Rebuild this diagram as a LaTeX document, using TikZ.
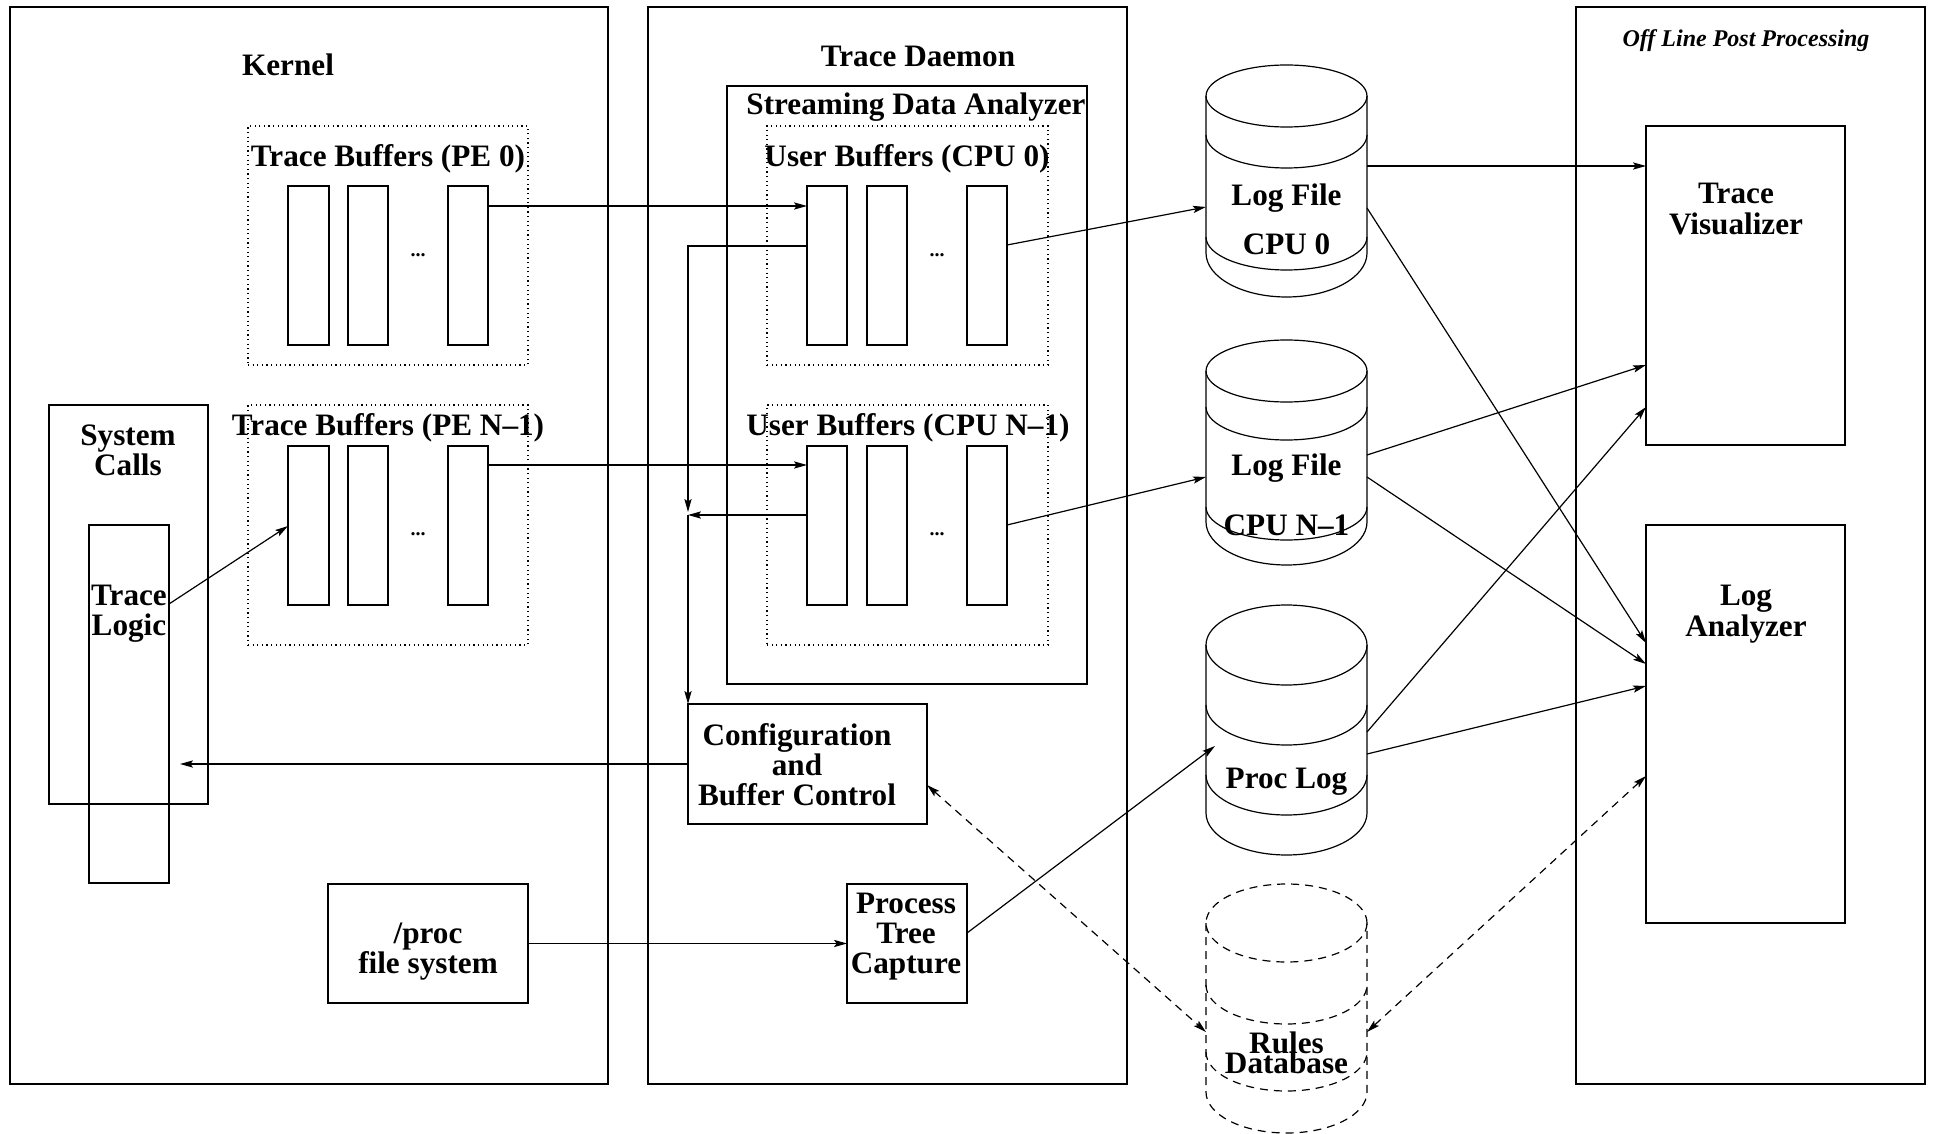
\documentclass[tikz,border=0pt]{standalone}
\usepackage{fontspec}
\setmainfont{Liberation Serif}
\usetikzlibrary{fit,arrows.meta}
\begin{document}
\begin{tikzpicture}[x=0.5pt,y=-0.5pt,
  bx/.style={draw, line width=0.6pt, inner sep=0pt, outer sep=0pt},
  dotbox/.style={draw, line width=0.6pt, dash pattern=on 0.6pt off 1.7pt, inner sep=0pt, outer sep=0pt},
  ghost/.style={inner sep=0pt, outer sep=0pt},
  lbl/.style={font=\fontsize{15.6}{16}\selectfont\bfseries, inner sep=0pt, anchor=base},
  ilbl/.style={font=\fontsize{12}{14}\selectfont\bfseries\itshape, inner sep=0pt, anchor=base},
  dotlbl/.style={font=\fontsize{10}{12}\selectfont\bfseries, inner sep=0pt, anchor=base},
  plain/.style={line width=0.6pt},
  dplain/.style={line width=0.6pt, dash pattern=on 4pt off 3pt},
  conn/.style={line width=0.6pt, -{Stealth[length=6.5pt,width=3.6pt,inset=1.3pt]}},
  dconn/.style={line width=0.6pt, dash pattern=on 4pt off 3pt,
     {Stealth[length=6.5pt,width=3.6pt,inset=1.3pt]}-{Stealth[length=6.5pt,width=3.6pt,inset=1.3pt]}},
]
\useasboundingbox (0,0) rectangle (1933,1134);

% outer boxes
\node[bx, fit={(10,7)(608,1084)}] (kernel) {};
\node[bx, fit={(648,7)(1127,1084)}] (daemon) {};
\node[bx, fit={(1576,7)(1925,1084)}] (offline) {};
\node[bx, fit={(727,86)(1087,684)}] (sda) {};

\node[lbl] (kernelT) at (288,76) {Kernel};
\node[lbl] (daemonT) at (918,67) {Trace Daemon};
\node[lbl] (sdaT) at (916,115) {Streaming Data Analyzer};
\node[ilbl] (offlineT) at (1746,47) {Off Line Post Processing};

% buffer groups
\node[dotbox, fit={(248,126)(528,365)}] (tb0) {};
\node[dotbox, fit={(248,405)(528,645)}] (tb1) {};
\node[dotbox, fit={(767,126)(1048,365)}] (ub0) {};
\node[dotbox, fit={(767,405)(1048,645)}] (ub1) {};

\node[lbl] (tb0T) at (388,167) {Trace Buffers (PE 0)};
\node[lbl] (tb1T) at (388,435) {Trace Buffers (PE N–1)};
\node[lbl] (ub0T) at (907,167) {User Buffers (CPU 0)};
\node[lbl] (ub1T) at (908,435) {User Buffers (CPU N–1)};

% buffers
\node[bx, fit={(288,186)(329,345)}] (r0a) {};
\node[bx, fit={(348,186)(388,345)}] (r0b) {};
\node[bx, fit={(448,186)(488,345)}] (r0c) {};
\node[bx, fit={(288,446)(329,605)}] (r1a) {};
\node[bx, fit={(348,446)(388,605)}] (r1b) {};
\node[bx, fit={(448,446)(488,605)}] (r1c) {};
\node[bx, fit={(807,186)(847,345)}] (u0a) {};
\node[bx, fit={(867,186)(907,345)}] (u0b) {};
\node[bx, fit={(967,186)(1007,345)}] (u0c) {};
\node[bx, fit={(807,446)(847,605)}] (u1a) {};
\node[bx, fit={(867,446)(907,605)}] (u1b) {};
\node[bx, fit={(967,446)(1007,605)}] (u1c) {};

\node[dotlbl] (d0) at (418,257) {...};
\node[dotlbl] (d1) at (418,535) {...};
\node[dotlbl] (d2) at (937,257) {...};
\node[dotlbl] (d3) at (937,535) {...};

% system calls / trace logic
\node[bx, fit={(49,405)(208,804)}] (syscalls) {};
\node[lbl] (sc1) at (128,445) {System};
\node[lbl] (sc2) at (128,475) {Calls};
\node[bx, fit={(89,525)(169,883)}] (tlogic) {};
\node[lbl] (tl1) at (129,605) {Trace};
\node[lbl] (tl2) at (129,635) {Logic};

% configuration
\node[bx, fit={(688,704)(927,824)}] (config) {};
\node[lbl] (cf1) at (797,745) {Configuration};
\node[lbl] (cf2) at (797,775) {and};
\node[lbl] (cf3) at (797,805) {Buffer Control};

% /proc
\node[bx, fit={(328,884)(528,1003)}] (procfs) {};
\node[lbl] (pf1) at (428,943) {/proc};
\node[lbl] (pf2) at (428,973) {file system};

% process tree capture
\node[bx, fit={(847,884)(967,1003)}] (ptc) {};
\node[lbl] (pt1) at (906,913) {Process};
\node[lbl] (pt2) at (906,943) {Tree};
\node[lbl] (pt3) at (906,973) {Capture};

% post processing
\node[bx, fit={(1646,126)(1845,445)}] (tvis) {};
\node[lbl] (tv1) at (1736,204) {Trace};
\node[lbl] (tv2) at (1736,235) {Visualizer};
\node[bx, fit={(1646,525)(1845,923)}] (loga) {};
\node[lbl] (la1) at (1746,605) {Log};
\node[lbl] (la2) at (1746,636) {Analyzer};

% cylinders
\node[ghost, fit={(1206,65)(1367,297)}] (cyl1) {};
\draw[plain] (1286.5,96) ellipse [x radius=40.25pt, y radius=15.5pt];
\draw[plain] (1206,96) -- (1206,253) arc[start angle=180,end angle=360,x radius=40.25pt,y radius=22pt] -- (1367,96);
\draw[plain] (1206,135) arc[start angle=180,end angle=360,x radius=40.25pt,y radius=16.5pt];
\draw[plain] (1206,237) arc[start angle=180,end angle=360,x radius=40.25pt,y radius=16.5pt];
\node[lbl] (c1a) at (1286.5,206) {Log File};
\node[lbl] (c1b) at (1286.5,255) {CPU 0};

\node[ghost, fit={(1206,340)(1367,565)}] (cyl2) {};
\draw[plain] (1286.5,371) ellipse [x radius=40.25pt, y radius=15.5pt];
\draw[plain] (1206,371) -- (1206,522) arc[start angle=180,end angle=360,x radius=40.25pt,y radius=21.5pt] -- (1367,371);
\draw[plain] (1206,407) arc[start angle=180,end angle=360,x radius=40.25pt,y radius=16.5pt];
\draw[plain] (1206,507) arc[start angle=180,end angle=360,x radius=40.25pt,y radius=16.5pt];
\node[lbl] (c2a) at (1286.5,475) {Log File};
\node[lbl] (c2b) at (1286.5,535) {CPU N–1};

\node[ghost, fit={(1206,605)(1367,855)}] (cyl3) {};
\draw[plain] (1286.5,645) ellipse [x radius=40.25pt, y radius=20pt];
\draw[plain] (1206,645) -- (1206,813) arc[start angle=180,end angle=360,x radius=40.25pt,y radius=21pt] -- (1367,645);
\draw[plain] (1206,705) arc[start angle=180,end angle=360,x radius=40.25pt,y radius=20pt];
\draw[plain] (1206,775) arc[start angle=180,end angle=360,x radius=40.25pt,y radius=20pt];
\node[lbl] (c3a) at (1286.5,788) {Proc Log};

\node[ghost, fit={(1206,884)(1367,1133)}] (cyl4) {};
\draw[dplain] (1286.5,923) ellipse [x radius=40.25pt, y radius=19.5pt];
\draw[dplain] (1206,923) -- (1206,1092) arc[start angle=180,end angle=360,x radius=40.25pt,y radius=20.5pt] -- (1367,923);
\draw[dplain] (1206,985) arc[start angle=180,end angle=360,x radius=40.25pt,y radius=19.5pt];
\draw[dplain] (1206,1052) arc[start angle=180,end angle=360,x radius=40.25pt,y radius=19.5pt];
\node[lbl] (c4a) at (1286.5,1053) {Rules};
\node[lbl] (c4b) at (1286.5,1073) {Database};

% connectors
\draw[conn] ([yshift=-10pt]r0c.north east) -- ([yshift=-10pt]u0a.north west);
\draw[conn] ([yshift=-9.5pt]r1c.north east) -- ([yshift=-9.5pt]u1a.north west);
\coordinate (junc) at (688,515);
\draw[conn] ([yshift=-30pt]u0a.north west) -| ([yshift=1.5pt]junc);
\draw[conn] ([yshift=-34.5pt]u1a.north west) -- (junc);
\draw[conn] (junc) -- (config.north west);
\coordinate (tlin) at (180,764);
\draw[conn] (config.west) -- (tlin);
\draw[conn] ([yshift=-39.5pt]tlogic.north east) -- ([yshift=-40pt]r1a.north west);
\draw[conn] (procfs.east) -- (ptc.west);
\draw[conn] ([yshift=-24.5pt]ptc.north east) -- ([xshift=4.5pt,yshift=-70.5pt]cyl3.north west);
\draw[conn] ([yshift=-29.5pt]u0c.north east) -- ([yshift=-71pt]cyl1.north west);
\draw[conn] ([yshift=-39.5pt]u1c.north east) -- ([yshift=-68.5pt]cyl2.north west);
\draw[conn] ([yshift=-50.5pt]cyl1.north east) -- ([yshift=-20pt]tvis.north west);
\draw[conn] ([yshift=-71.5pt]cyl1.north east) -- ([yshift=-59pt]loga.north west);
\draw[conn] ([yshift=-57.5pt]cyl2.north east) -- ([yshift=-119.5pt]tvis.north west);
\draw[conn] ([yshift=-68.5pt]cyl2.north east) -- ([yshift=-69.5pt]loga.north west);
\draw[conn] ([yshift=-63.5pt]cyl3.north east) -- ([yshift=-140.5pt]tvis.north west);
\draw[conn] ([yshift=-74.5pt]cyl3.north east) -- ([yshift=-80.5pt]loga.north west);
\draw[dconn] ([yshift=-40.5pt]config.north east) -- ([yshift=-74pt]cyl4.north west);
\draw[dconn] ([yshift=-125.5pt]loga.north west) -- ([yshift=-74pt]cyl4.north east);
\end{tikzpicture}
\end{document}
